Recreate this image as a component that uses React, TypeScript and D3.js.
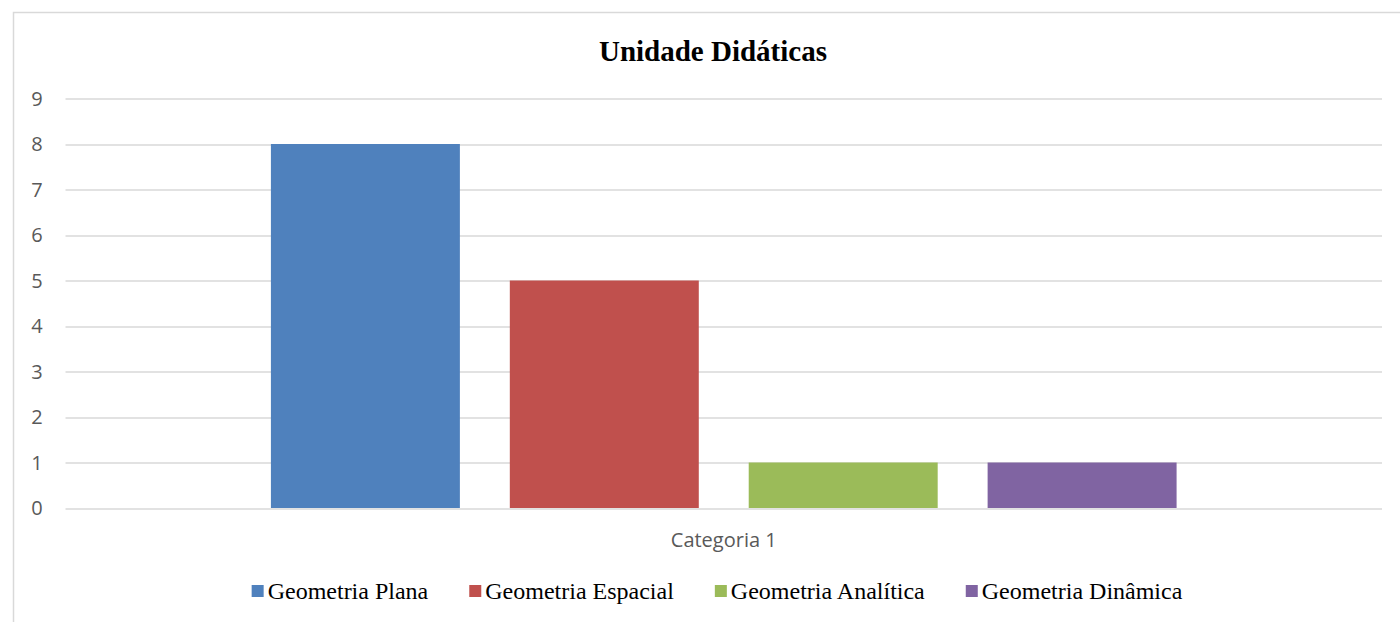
import { useEffect, useRef } from 'react';
import * as d3 from 'd3';

// 데이터
const categories = ['Categoria 1'];
const seriesNames = ['Geometria Plana', 'Geometria Espacial', 'Geometria Analítica', 'Geometria Dinâmica'];
const seriesValues = [8, 5, 1, 1];
const seriesColors = ['#4F81BD', '#C0504D', '#9BBB59', '#8064A2'];
const yTicks = [0, 1, 2, 3, 4, 5, 6, 7, 8, 9];

const WIDTH = 1400;
const HEIGHT = 622;

export default function App() {
  const svgRef = useRef<SVGSVGElement>(null);

  useEffect(() => {
    if (!svgRef.current) return;
    const svg = d3.select(svgRef.current);
    svg.selectAll('*').remove();

    const margin = { top: 98.5, right: 18, bottom: 114, left: 65.5 };
    const plotW = WIDTH - margin.left - margin.right;
    const plotH = HEIGHT - margin.top - margin.bottom;

    // 차트 테두리
    svg.append('rect')
      .attr('x', 13.5).attr('y', 12.5)
      .attr('width', WIDTH).attr('height', HEIGHT)
      .attr('fill', 'none')
      .attr('stroke', '#d9d9d9')
      .attr('stroke-width', 1.5);

    const x0 = d3.scaleBand<string>().domain(categories).range([0, plotW])
      .paddingInner(0).paddingOuter(0.2268);
    const x1 = d3.scaleBand<string>().domain(seriesNames).range([0, x0.bandwidth()])
      .paddingInner(0.209).paddingOuter(0);
    const y = d3.scaleLinear().domain([0, 9]).range([plotH, 0]);

    const g = svg.append('g').attr('transform', `translate(${margin.left},${margin.top})`);

    // ── 그리드 ──
    g.selectAll('.grid')
      .data(yTicks)
      .enter()
      .append('line')
      .attr('x1', 0).attr('x2', plotW)
      .attr('y1', (d) => Math.round(y(d)) + 0.5)
      .attr('y2', (d) => Math.round(y(d)) + 0.5)
      .attr('stroke', '#d9d9d9')
      .attr('stroke-width', 1.5);

    // ── Y축 라벨 ──
    g.selectAll('.ylabel')
      .data(yTicks)
      .enter()
      .append('text')
      .attr('x', -28.5)
      .attr('y', (d) => y(d))
      .attr('dy', '0.36em')
      .attr('text-anchor', 'middle')
      .attr('fill', '#595959')
      .attr('font-family', '"Open Sans", sans-serif')
      .attr('font-size', '20px')
      .text((d) => d);

    // ── 막대 ──
    categories.forEach((cat) => {
      const cg = g.append('g').attr('transform', `translate(${x0(cat)},0)`);
      cg.selectAll('rect')
        .data(seriesNames.map((name, i) => ({ name, value: seriesValues[i], color: seriesColors[i] })))
        .enter()
        .append('rect')
        .attr('x', (d) => x1(d.name)!)
        .attr('y', (d) => y(d.value))
        .attr('width', x1.bandwidth())
        .attr('height', (d) => plotH - y(d.value))
        .attr('fill', (d) => d.color);

      g.append('text')
        .attr('x', x0(cat)! + x0.bandwidth() / 2)
        .attr('y', plotH + 39)
        .attr('text-anchor', 'middle')
        .attr('fill', '#595959')
        .attr('font-family', '"Open Sans", sans-serif')
        .attr('font-size', '20px')
        .text(cat);
    });

    // ── 제목 ──
    svg.append('text')
      .attr('x', 713)
      .attr('y', 61)
      .attr('text-anchor', 'middle')
      .attr('font-family', '"Liberation Serif", "Times New Roman", serif')
      .attr('font-weight', 'bold')
      .attr('font-size', '29px')
      .attr('fill', '#000')
      .text('Unidade Didáticas');

    // ── 범례 ──
    const legend = svg.append('g');
    const items = legend.selectAll('g')
      .data(seriesNames)
      .enter()
      .append('g');
    items.append('rect')
      .attr('width', 12).attr('height', 12)
      .attr('y', -6)
      .attr('fill', (_, i) => seriesColors[i]);
    const texts = items.append('text')
      .attr('x', 16)
      .attr('dy', '0.33em')
      .attr('font-family', '"Liberation Serif", "Times New Roman", serif')
      .attr('font-size', '24px')
      .attr('fill', '#000')
      .text((d) => d);
    const widths = texts.nodes().map((n) => (n as SVGTextElement).getComputedTextLength() + 16);
    const gap = 41;
    const total = d3.sum(widths) + gap * (widths.length - 1);
    let cx = 717 - total / 2;
    items.attr('transform', (_, i) => {
      const t = `translate(${cx},591)`;
      cx += widths[i] + gap;
      return t;
    });
  }, []);

  return (
    <div style={{ position: 'absolute', left: 0, top: 0, width: WIDTH, height: HEIGHT, background: '#fff' }}>
      <svg ref={svgRef} width={WIDTH} height={HEIGHT} style={{ display: 'block' }} />
    </div>
  );
}
